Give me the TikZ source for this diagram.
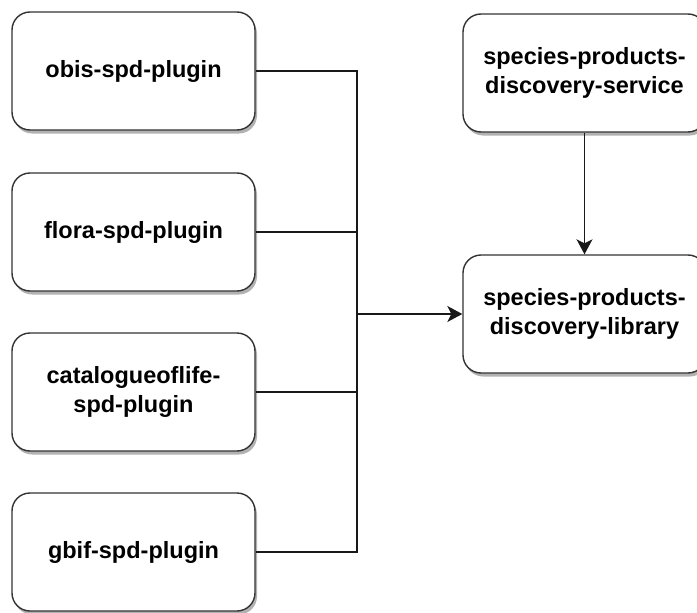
\documentclass[tikz,border=0pt]{standalone}
\usepackage{fontspec}
\setmainfont{Liberation Sans}
\usetikzlibrary{shadows,arrows.meta}
\begin{document}
\begin{tikzpicture}[x=1pt,y=-1pt,
  box/.style={draw=black!80, line width=1.4pt, rounded corners=18pt, fill=white,
    minimum width=243pt, minimum height=118pt, align=center,
    font=\bfseries\fontsize{23.5}{29}\selectfont,
    drop shadow={shadow xshift=2pt, shadow yshift=-3.5pt, fill=black, opacity=0.3}},
  wire/.style={line width=1.5pt, draw=black!90},
  arr/.style={wire, -{Stealth[length=15pt,width=16pt,inset=4pt]}}]
\useasboundingbox (0,0) rectangle (697,613);
\node[box] (obis) at (133.5,71) {obis-spd-plugin};
\node[box] (flora) at (133.5,232) {flora-spd-plugin};
\node[box] (col) at (133.5,392) {catalogueoflife-\\spd-plugin};
\node[box] (gbif) at (133.5,552) {gbif-spd-plugin};
\node[box] (service) at (584.5,73) {species-products-\\discovery-service};
\node[box] (library) at (584.5,314) {species-products-\\discovery-library};
\coordinate (bustop) at (357,71);
\coordinate (busflora) at (357,232);
\coordinate (buscol) at (357,392);
\coordinate (busbot) at (357,552);
\coordinate (busmid) at (357,314);
\draw[wire] (obis.east) -- (bustop) -- (busbot) -- (gbif.east);
\draw[wire] (flora.east) -- (busflora);
\draw[wire] (col.east) -- (buscol);
\draw[arr] (busmid) -- (library.west);
\draw[arr] (service.south) -- (library.north);
\end{tikzpicture}
\end{document}
